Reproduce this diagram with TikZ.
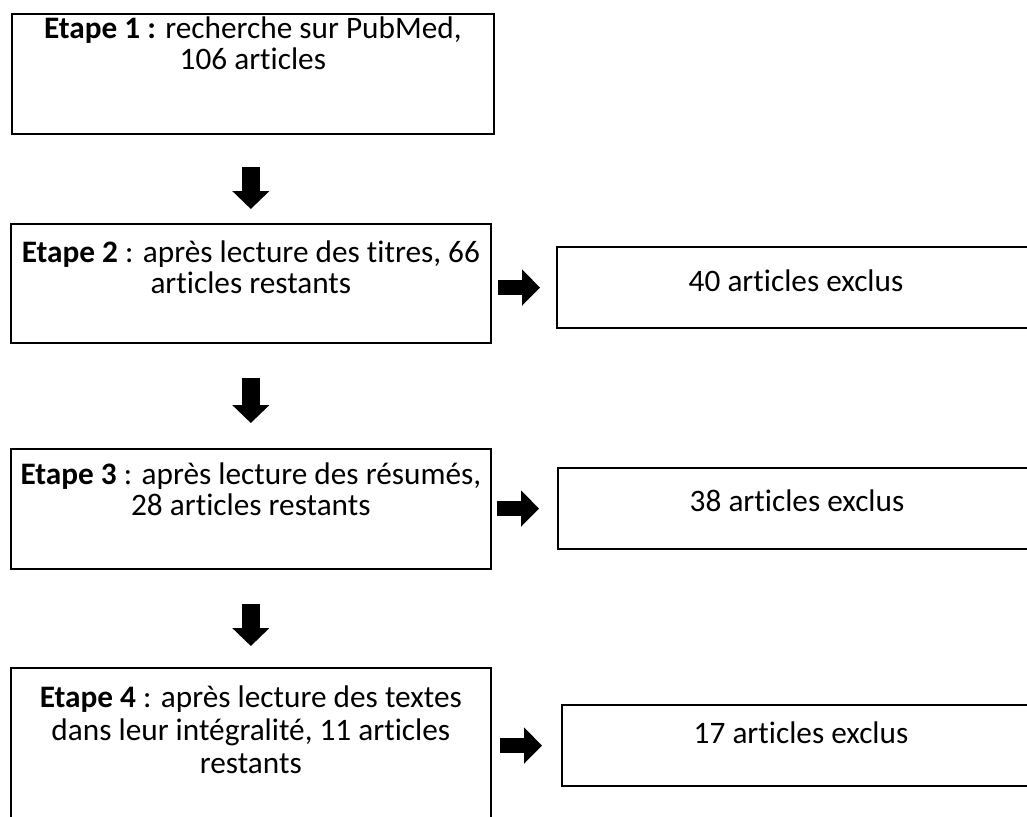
\documentclass[tikz,border=0pt]{standalone}
\usepackage{fontspec}
\setmainfont{Carlito}[Ligatures=CommonOff]
\usetikzlibrary{arrows.meta, positioning}

\tikzset{
  stepbox/.style={draw, line width=1pt, inner sep=0pt, anchor=north west, minimum width=9.6cm},
  exbox/.style={draw, line width=1.2pt, inner sep=0pt, anchor=north west, minimum width=9.56cm, minimum height=1.62cm},
  boxtext/.style={anchor=north, align=center, inner sep=0pt, font=\fontsize{17.8}{17.8}\selectfont},
  downarrow/.style={line width=10.2pt, -{Triangle[length=10.2pt, width=20.5pt]}},
  rightarrow/.style={line width=8.5pt, -{Triangle[length=10.2pt, width=20pt]}}
}

\begin{document}
\begin{tikzpicture}[x=0.02cm, y=-0.02cm]
\useasboundingbox (0,0) rectangle (1027,816);
\clip (0,0) rectangle (1027,816);

% Etape 1
\node[stepbox, minimum width=9.64cm, minimum height=2.4cm] (e1) at (11,13) {};
\node[boxtext, below=0.06cm of e1.north] (t1) {\textbf{Etape 1 :} recherche sur PubMed,\\106 articles};

% Etape 2
\node[stepbox, minimum height=2.38cm] (e2) at (10,223) {};
\node[boxtext, below=0.34cm of e2.north] (t2) {\textbf{Etape 2} : après lecture des titres, 66\\articles restants};
\node[exbox] (x2) at (556,246) {};
\node[boxtext, below=0.46cm of x2.north] (u2) {40 articles exclus};

% Etape 3
\node[stepbox, minimum height=2.4cm] (e3) at (10,448) {};
\node[boxtext, below=0.28cm of e3.north] (t3) {\textbf{Etape 3} : après lecture des résumés,\\28 articles restants};
\node[exbox] (x3) at (557,467) {};
\node[boxtext, below=0.44cm of x3.north] (u3) {38 articles exclus};

% Etape 4
\node[stepbox, minimum height=3.3cm] (e4) at (10,667) {};
\node[boxtext, font=\fontsize{17.8}{19}\selectfont, below=0.36cm of e4.north] (t4) {\textbf{Etape 4} : après lecture des textes\\dans leur intégralité, 11 articles\\restants};
\node[exbox] (x4) at (561,704) {};
\node[boxtext, below=0.34cm of x4.north] (u4) {17 articles exclus};

% fleches
\draw[downarrow, shorten <=0.64cm, shorten >=0.28cm] (e2.north |- e1.south) -- (e2.north);
\draw[downarrow, shorten <=0.68cm, shorten >=0.5cm] (e2.south) -- (e3.north);
\draw[downarrow, shorten <=0.68cm, shorten >=0.42cm] (e3.south) -- (e4.north);
\draw[rightarrow, shorten <=0.12cm, shorten >=0.32cm] (e2.east |- x2.west) -- (x2.west);
\draw[rightarrow, shorten <=0.1cm, shorten >=0.36cm] (e3.east |- x3.west) -- (x3.west);
\draw[rightarrow, shorten <=0.16cm, shorten >=0.38cm] (e4.east |- x4.west) -- (x4.west);
\end{tikzpicture}
\end{document}
